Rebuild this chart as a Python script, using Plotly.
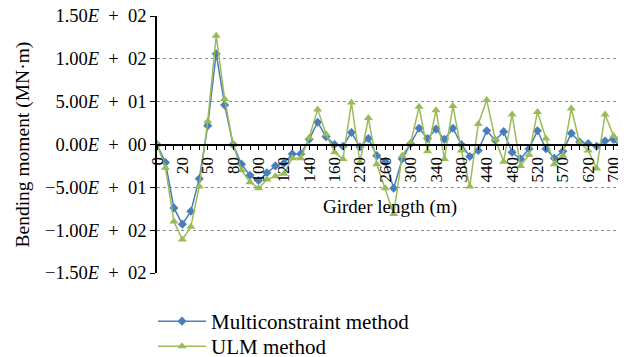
import plotly.graph_objects as go

# category index positions along the girder (labels shown every 3rd category)
x_index = list(range(56))
tick_index = list(range(0, 55, 3))
tick_labels = ["0", "20", "50", "80", "100", "120", "140", "160", "220", "260",
               "300", "340", "380", "440", "480", "520", "570", "620", "700"]

multiconstraint = [0, -21, -74, -93, -78, -40, 22, 106, 46, 0,
                   -23, -36, -42, -33, -25, -22, -11, -11, 6, 26,
                   9, 0, -2, 14, -3, 7, -13, -20, -51, -17,
                   1, 19, 7, 18, 6, 19, 0, -14, -7, 16,
                   5, 15, -9, -17, -5, 16, -5, -16, -8, 13,
                   3, 1, -2, 4, 6, -6]

ulm = [0, -27, -90, -111, -96, -49, 27, 127, 53, 0,
       -30, -44, -51, -41, -37, -34, -16, -16, 8, 41,
       12, -9, -17, 49, -21, 31, -23, -51, -81, -13,
       2, 44, -8, 40, -17, 45, -7, -49, 24, 52,
       6, -20, 35, -25, -12, 38, 7, -23, -13, 42,
       2, -7, -28, 35, 10, -5]

y_ticks = [150, 100, 50, 0, -50, -100, -150]
SP = "\u2002+\u2002"
y_tick_text = ["1.50<i>E</i>" + SP + "02", "1.00<i>E</i>" + SP + "02",
               "5.00<i>E</i>" + SP + "01", "0.00<i>E</i>" + SP + "00",
               "\u22125.00<i>E</i>" + SP + "01", "\u22121.00<i>E</i>" + SP + "02",
               "\u22121.50<i>E</i>" + SP + "02"]

FONT = "Liberation Serif"
BLUE = "#4A7EBB"
GREEN = "#9BBB59"

# the page body adds an 8px offset; the figure is sized so it ends at the window edge
W, H = 618, 349

fig = go.Figure()
fig.add_trace(go.Scatter(x=x_index, y=multiconstraint, mode="lines+markers",
                         name="Multiconstraint method", legend="legend",
                         line=dict(color=BLUE, width=1.5),
                         marker=dict(symbol="diamond", size=7, color=BLUE)))
fig.add_trace(go.Scatter(x=x_index, y=ulm, mode="lines+markers",
                         name="ULM method", legend="legend2",
                         line=dict(color=GREEN, width=1.5),
                         marker=dict(symbol="triangle-up", size=8, color=GREEN)))

leg_common = dict(x=-4 / 465, xanchor="left", yanchor="top", yref="container",
                  font=dict(family=FONT, size=21), tracegroupgap=0,
                  itemwidth=48, bgcolor="rgba(0,0,0,0)")

fig.update_layout(
    width=W, height=H,
    margin=dict(l=149, r=4, t=8, b=84),
    paper_bgcolor="white", plot_bgcolor="white",
    font=dict(family=FONT, size=17, color="black"),
    showlegend=True,
    legend=dict(y=(H - 293) / H, **leg_common),
    legend2=dict(y=(H - 318) / H, **leg_common),
    xaxis=dict(range=[0, 55], tickmode="array", tickvals=tick_index, ticktext=tick_labels,
               tickangle=-90, ticks="outside", ticklen=5, tickcolor="black",
               showline=True, linecolor="black", linewidth=1.5,
               showgrid=False, zeroline=False, automargin=False,
               anchor="free", position=0.5,
               minor=dict(dtick=1, tick0=0, ticks="outside", ticklen=5, tickcolor="black"),
               tickfont=dict(family=FONT, size=17)),
    yaxis=dict(range=[-150, 150], tickmode="array", tickvals=y_ticks, ticktext=y_tick_text,
               ticks="outside", ticklen=5, tickcolor="black", ticklabelstandoff=0,
               ticklabeloverflow="allow",
               showline=True, linecolor="black", linewidth=1.5, mirror=True,
               showgrid=True, gridcolor="#8c8c8c", griddash="dot", gridwidth=1,
               zeroline=False, automargin=False, tickfont=dict(family=FONT, size=18.5)),
    annotations=[
        dict(text="Bending moment (MN·m)", textangle=-90, xref="paper", yref="paper",
             x=(22 - 157) / 465, y=0.5, xanchor="center", yanchor="middle",
             showarrow=False, font=dict(family=FONT, size=19.5)),
        dict(text="Girder length (m)", xref="paper", yref="paper",
             x=(390 - 157) / 465, y=(273 - 207) / 257, xanchor="center", yanchor="middle",
             showarrow=False, font=dict(family=FONT, size=19)),
    ],
)

fig.write_html("out.html")
